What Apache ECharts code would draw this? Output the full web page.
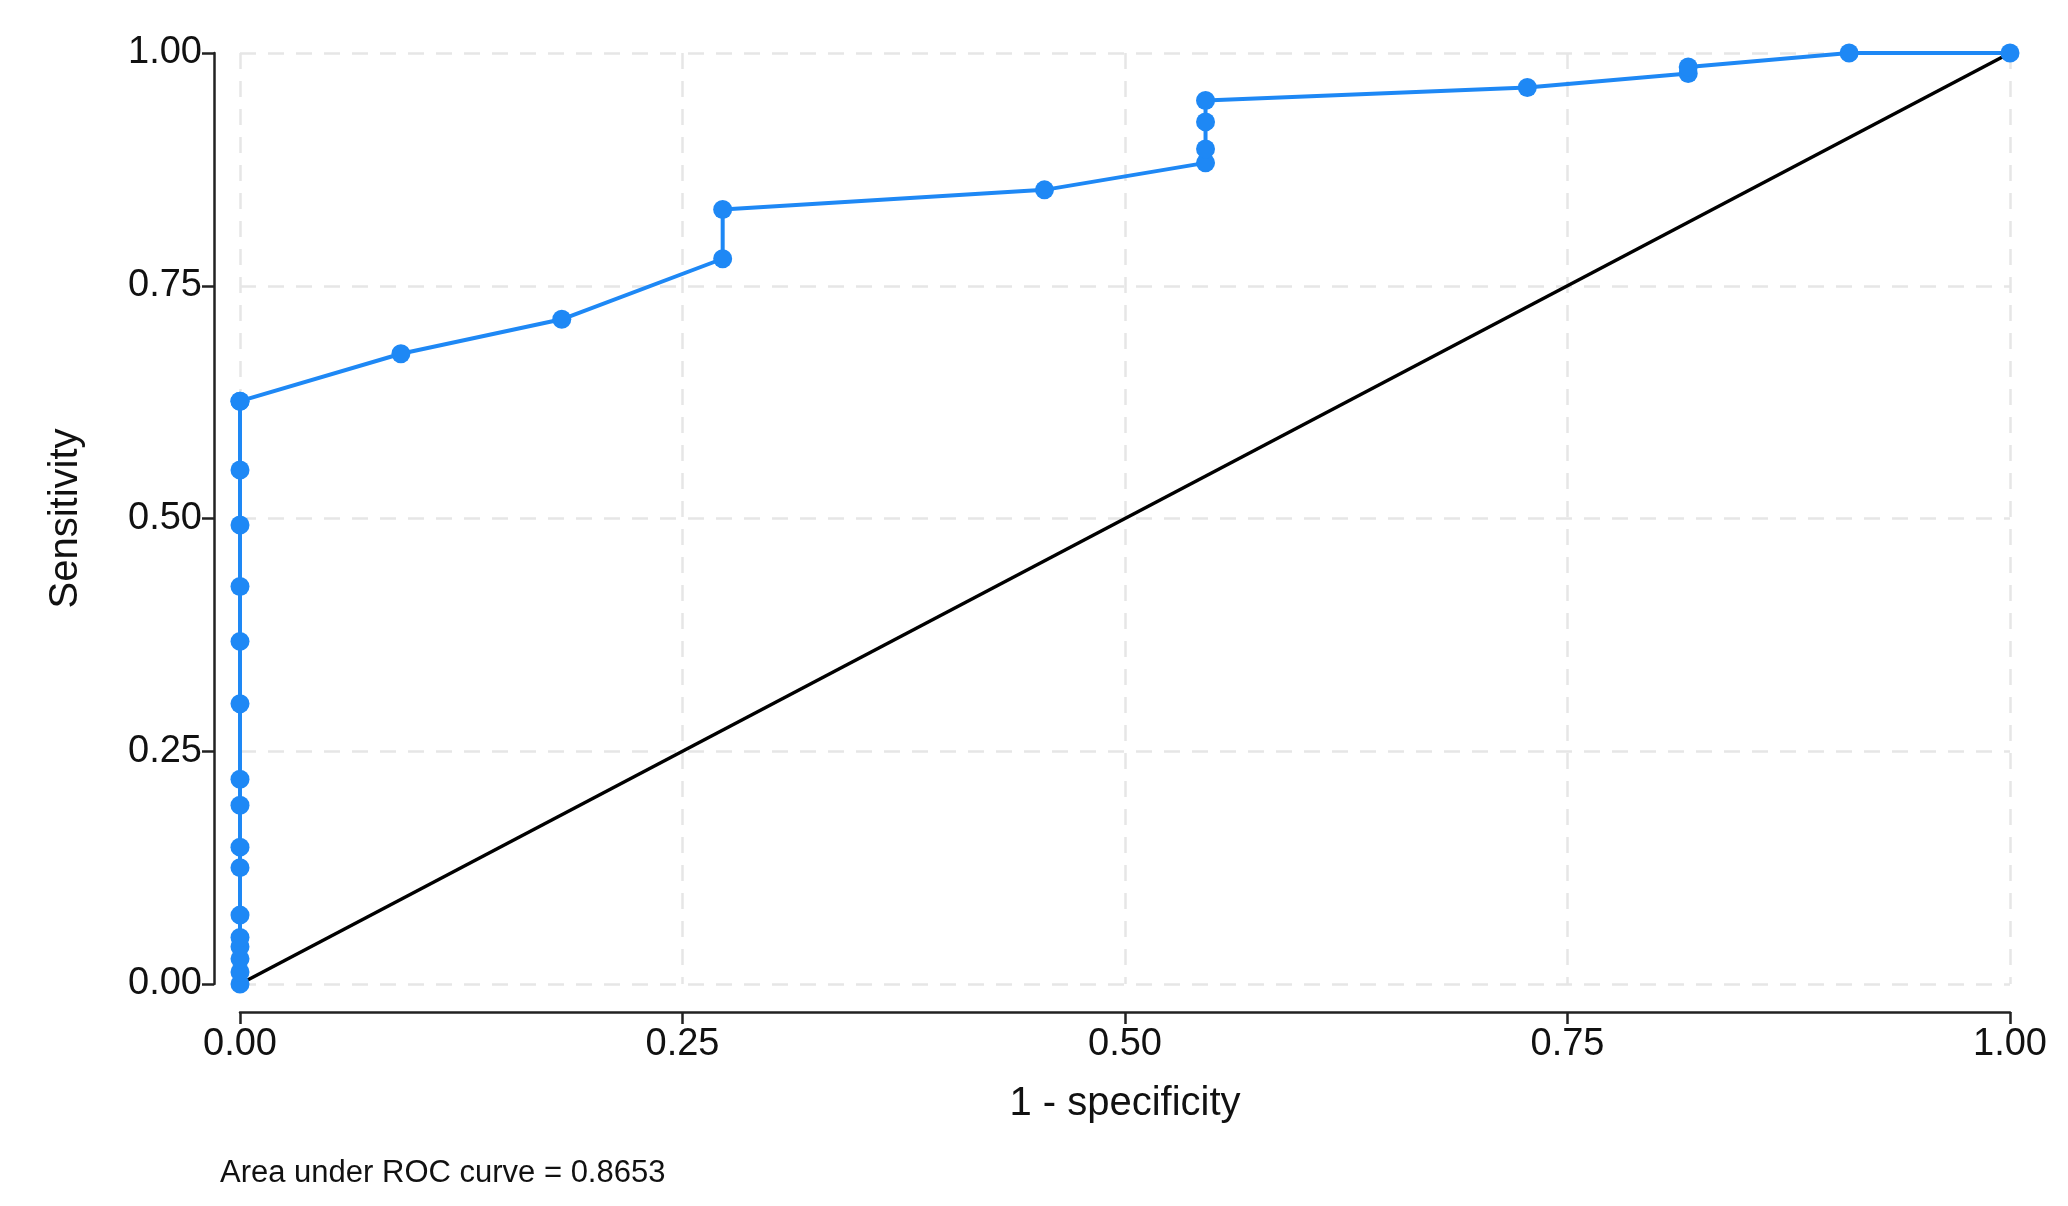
<!DOCTYPE html>
<html>
<head>
<meta charset="utf-8">
<script src="https://cdn.jsdelivr.net/npm/echarts@6/dist/echarts.min.js"></script>
<style>html,body{margin:0;padding:0;background:#fff}#chart{width:2068px;height:1206px}</style>
</head>
<body>
<div id="chart"></div>
<script>
// ROC points
let fpr = [0, 0, 0, 0, 0, 0, 0, 0, 0, 0, 0, 0, 0, 0, 0, 0, 0,
    0.0909, 0.1818, 0.2727, 0.2727, 0.4545, 0.5455, 0.5455, 0.5455, 0.5455,
    0.7273, 0.8182, 0.8182, 0.9091, 1];
let tpr = [0, 0.013, 0.027, 0.04, 0.05, 0.074, 0.125, 0.147, 0.192, 0.22, 0.301,
    0.368, 0.427, 0.493, 0.552, 0.626,
    0.626, 0.677, 0.714, 0.779, 0.832, 0.853, 0.882, 0.897, 0.926, 0.949,
    0.963, 0.978, 0.985, 1, 1];
let refX = [0, 1];
let refY = [0, 1];
let aucText = 'Area under ROC curve = 0.8653';

let rocData = [];
for (let i = 0; i < fpr.length; i++) {
    rocData.push([fpr[i], tpr[i]]);
}
let refData = [[refX[0], refY[0]], [refX[1], refY[1]]];

let fmt = function (v) { return v.toFixed(2); };
let splitStyle = {show: true, lineStyle: {color: '#e6e6e6', type: [16, 12], width: 2.5}};

let option = {
    animation: false,
    grid: {left: 240, right: 58, top: 53, bottom: 222},
    xAxis: {
        type: 'value', min: 0, max: 1, interval: 0.25, offset: 28,
        name: '1 - specificity', nameLocation: 'middle', nameGap: 72,
        nameTextStyle: {fontSize: 40, color: '#111', fontFamily: 'Liberation Sans'},
        axisLine: {show: true, onZero: false, lineStyle: {color: '#222', width: 2.5}},
        axisTick: {show: true, length: 12, lineStyle: {color: '#222', width: 2.5}},
        axisLabel: {formatter: fmt, fontSize: 38, color: '#111', margin: 14, fontFamily: 'Liberation Sans'},
        splitLine: splitStyle
    },
    yAxis: {
        type: 'value', min: 0, max: 1, interval: 0.25, offset: 26,
        name: 'Sensitivity', nameLocation: 'middle', nameGap: 128, nameRotate: 90,
        nameTextStyle: {fontSize: 40, color: '#111', fontFamily: 'Liberation Sans'},
        axisLine: {show: true, onZero: false, lineStyle: {color: '#222', width: 2.5}},
        axisTick: {show: true, length: 12, lineStyle: {color: '#222', width: 2.5}},
        axisLabel: {formatter: fmt, fontSize: 38, color: '#111', margin: 12, fontFamily: 'Liberation Sans'},
        splitLine: splitStyle
    },
    graphic: [{
        type: 'text', left: 220, top: 1158,
        style: {text: aucText, fontSize: 31, fill: '#111', fontFamily: 'Liberation Sans'}
    }],
    series: [{
        type: 'line', data: refData, symbol: 'none',
        lineStyle: {color: '#000', width: 3.5}, z: 2
    }, {
        type: 'line', data: rocData, symbol: 'circle', symbolSize: 19,
        itemStyle: {color: '#1e88f5'},
        lineStyle: {color: '#1e88f5', width: 4}, z: 3
    }]
};

let myChart = echarts.init(document.getElementById('chart'));
myChart.setOption(option);
</script>
</body>
</html>
